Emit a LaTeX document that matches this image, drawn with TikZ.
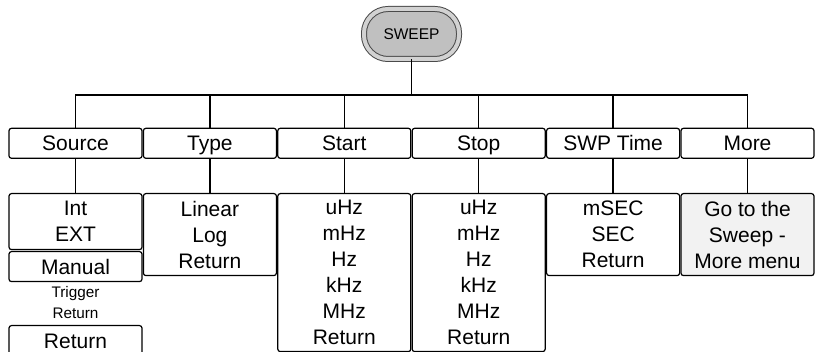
\documentclass[tikz,border=0pt]{standalone}
\usepackage{fontspec}
\setmainfont{Liberation Sans}
\usetikzlibrary{positioning}
\definecolor{keygray}{HTML}{C0C0C0}
\definecolor{keyband}{HTML}{D2D2D2}
\definecolor{keyedge}{HTML}{4A4A4A}
\definecolor{morefill}{HTML}{F2F2F2}

\begin{document}
\begin{tikzpicture}[x=1pt, y=-1pt, line width=1.5pt,
    keybox/.style={draw, line width=1.2pt, rounded corners=2.5pt, minimum width=133pt,
      inner sep=0pt, align=center, font=\fontsize{21}{26}\selectfont},
    onerow/.style={keybox, minimum height=30pt, text height=15pt, text depth=0pt},
    subbox/.style={keybox, anchor=north}]
  \useasboundingbox (0,0) rectangle (815,352);
  \clip (0,0) rectangle (815,352);
  \node[draw=keyedge, line width=1pt, double=keyband, double distance=4pt, fill=keygray,
    rounded corners=24pt, minimum width=95pt, minimum height=50pt, inner sep=0pt,
    font=\fontsize{15.5}{18}\selectfont] (sweep) at (411.5,34) {SWEEP};
  \coordinate (bus) at (0,95);
  \foreach \n/\t [count=\i from 0] in {source/Source, type/Type, start/Start,
      stop/Stop, swptime/SWP Time, more/More} {
    \node[onerow] (\n) at (75.5+134.4*\i,143.3) {\t};
    \draw (\n.north) -- (\n |- bus);
  }
  \draw (sweep.south) -- (sweep |- bus);
  \draw (source.north) -- (source |- bus) -- (more |- bus) -- (more.north);

  % second level
  \node[subbox, minimum height=56pt] (srcint) at (source |- 0,193) {Int\\EXT};
  \node[onerow, anchor=north] (srcman) at (source |- 0,251) {Manual};
  \node[align=center, inner sep=0pt, font=\fontsize{15.3}{20.6}\selectfont] (srctrig)
    at (source |- 0,302.5) {Trigger\\Return};
  \node[onerow, anchor=north] (srcret) at (source |- 0,325) {Return};
  \node[subbox, minimum height=82pt] (typesub) at (type |- 0,193) {Linear\\Log\\Return};
  \node[subbox, minimum height=158pt] (startsub) at (start |- 0,193)
    {uHz\\mHz\\Hz\\kHz\\MHz\\Return};
  \node[subbox, minimum height=158pt] (stopsub) at (stop |- 0,193)
    {uHz\\mHz\\Hz\\kHz\\MHz\\Return};
  \node[subbox, minimum height=82pt] (swpsub) at (swptime |- 0,193) {mSEC\\SEC\\Return};
  \node[subbox, minimum height=82pt, fill=morefill] (moresub) at (more |- 0,193)
    {Go to the\\Sweep -\\More menu};
  \foreach \a/\b in {source/srcint, type/typesub, start/startsub, stop/stopsub,
      swptime/swpsub, more/moresub}
    \draw (\a.south) -- (\b.north);
\end{tikzpicture}
\end{document}
